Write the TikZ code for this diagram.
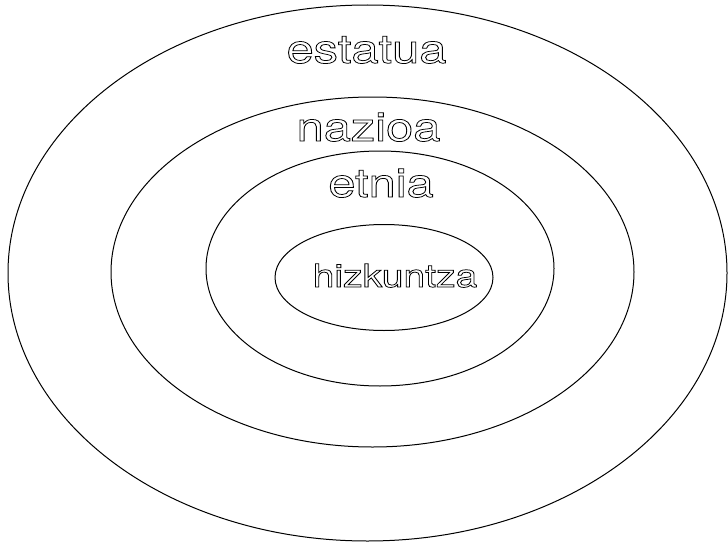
\documentclass[tikz,border=0pt]{standalone}
\usepackage{fontspec}
\setmainfont{TeX Gyre Heros}
\usepackage{graphicx}
\usetikzlibrary{shapes.geometric}

% hollow letters: stroke only, no fill
\newcommand{\hollow}[1]{\scalebox{1.22}[1]{\special{pdf:literal direct q 1 Tr 0.75 w}#1\special{pdf:literal direct Q}}}

\tikzset{
  ring/.style={ellipse, draw, line width=1pt, inner sep=0pt, outer sep=0pt},
  bigword/.style={anchor=base, inner sep=0pt, font=\fontsize{40}{48}\selectfont},
  smallword/.style={anchor=base, inner sep=0pt, font=\fontsize{32}{38}\selectfont}
}

\begin{document}
\begin{tikzpicture}[x=1pt,y=-1pt]
        \useasboundingbox (0,0) rectangle (728,543);

        % Rings, outside in
        \node[ring, minimum width=719, minimum height=536] (estaturing) at (367.5,273) {};
        \node[ring, minimum width=523, minimum height=350] (naziring) at (372.5,272) {};
        \node[ring, minimum width=348, minimum height=235] (etniring) at (380,268.5) {};
        \node[ring, minimum width=218, minimum height=106] (hizkring) at (384,277.5) {};

        % Labels
        \node[bigword] (estatua) at (366.5,63) {\hollow{estatua}};
        \node[bigword] (nazioa) at (368.5,141) {\hollow{nazioa}};
        \node[bigword] (etnia) at (381,197) {\hollow{etnia}};
        \node[smallword] (hizkuntza) at (395,287) {\hollow{hizkuntza}};
\end{tikzpicture}
\end{document}
